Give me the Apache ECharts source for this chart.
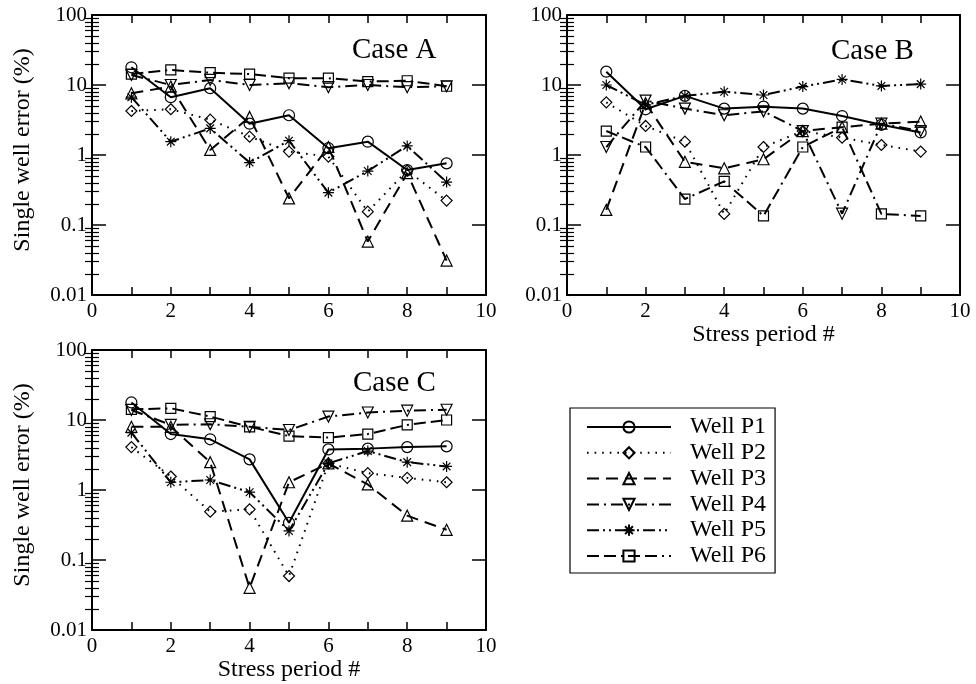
<!DOCTYPE html>
<html>
<head>
<meta charset="utf-8">
<script src="https://cdn.jsdelivr.net/npm/echarts@6/dist/echarts.min.js"></script>
<style>
html,body{margin:0;padding:0;background:#fff;}
#chart{width:976px;height:684px;}
</style>
</head>
<body>
<div id="chart"></div>
<script>
// ---- data ----
const periods = [1, 2, 3, 4, 5, 6, 7, 8, 9];
const wellNames = ['Well P1', 'Well P2', 'Well P3', 'Well P4', 'Well P5', 'Well P6'];
const caseNames = ['Case A', 'Case B', 'Case C'];
const xTickValues = [0, 2, 4, 6, 8, 10];
const yTickLabels = ['0.01', '0.1', '1', '10', '100'];

// Case A
const a_p1 = [17.9, 6.7, 9.0, 2.8, 3.7, 1.25, 1.55, 0.61, 0.76];
const a_p2 = [4.25, 4.5, 3.2, 1.83, 1.12, 0.95, 0.155, 0.6, 0.223];
const a_p3 = [7.6, 9.5, 1.18, 3.5, 0.24, 1.3, 0.058, 0.55, 0.031];
const a_p4 = [13.9, 10.0, 11.8, 10.0, 10.6, 9.3, 10.0, 9.3, 9.6];
const a_p5 = [6.7, 1.55, 2.4, 0.78, 1.6, 0.29, 0.59, 1.35, 0.41];
const a_p6 = [14.3, 16.4, 15.0, 14.3, 12.5, 12.5, 11.2, 11.5, 9.6];
// Case B
const b_p1 = [15.5, 4.5, 7.0, 4.6, 4.9, 4.6, 3.6, 2.7, 2.1];
const b_p2 = [5.65, 2.6, 1.55, 0.144, 1.3, 2.2, 1.77, 1.39, 1.12];
const b_p3 = [0.164, 5.5, 0.8, 0.645, 0.87, 2.2, 2.5, 2.8, 3.0];
const b_p4 = [1.3, 6.0, 4.6, 3.7, 4.2, 2.2, 0.145, 2.8, 2.2];
const b_p5 = [10.0, 5.2, 7.0, 8.0, 7.2, 9.5, 12.0, 9.7, 10.3];
const b_p6 = [2.2, 1.3, 0.235, 0.42, 0.135, 1.3, 2.5, 0.144, 0.135];
// Case C
const c_p1 = [17.8, 6.3, 5.3, 2.74, 0.34, 3.8, 3.9, 4.1, 4.2];
const c_p2 = [4.1, 1.56, 0.49, 0.53, 0.059, 2.4, 1.74, 1.49, 1.29];
const c_p3 = [8.0, 8.0, 2.5, 0.040, 1.29, 2.4, 1.2, 0.43, 0.27];
const c_p4 = [13.9, 8.5, 8.7, 8.0, 7.2, 11.2, 12.8, 13.6, 14.0];
const c_p5 = [6.6, 1.29, 1.39, 0.93, 0.26, 2.4, 3.6, 2.5, 2.17];
const c_p6 = [14.2, 14.7, 11.2, 8.0, 5.9, 5.6, 6.3, 8.5, 10.0];

const caseData = [
  [a_p1, a_p2, a_p3, a_p4, a_p5, a_p6],
  [b_p1, b_p2, b_p3, b_p4, b_p5, b_p6],
  [c_p1, c_p2, c_p3, c_p4, c_p5, c_p6]
];

// ---- styles ----
const FONT = '"Liberation Serif", "DejaVu Serif", serif';
const starPath = 'path://M0,-10L0,10M-10,0L10,0M-7,-7L7,7M-7,7L7,-7';
const wellStyles = [
  { symbol: 'circle', size: 11, rotate: 0, dash: 'solid' },
  { symbol: 'diamond', size: 11, rotate: 0, dash: [1.6, 6] },
  { symbol: 'triangle', size: 11, rotate: 0, dash: [12, 7] },
  { symbol: 'triangle', size: 11, rotate: 180, dash: [12, 5, 2, 5] },
  { symbol: starPath, size: 11, rotate: 0, dash: [12, 4, 2, 4, 2, 4] },
  { symbol: 'rect', size: 10, rotate: 0, dash: [12, 5, 12, 5, 2, 5] }
];

const grids = [
  { left: 92, top: 15, width: 394, height: 280 },
  { left: 567, top: 15, width: 393, height: 280 },
  { left: 92, top: 350, width: 394, height: 280 }
];
const titlePos = [
  { left: 352, top: 36 },
  { left: 831, top: 37 },
  { left: 353, top: 369 }
];
const showYName = [true, false, true];
const showXName = [false, true, true];

const minorVals = [];
[-2, -1, 0, 1].forEach(function (d) {
  for (let k = 2; k <= 9; k++) minorVals.push(Number((k * Math.pow(10, d)).toPrecision(3)));
});

const xAxes = [], yAxes = [], series = [], titles = [];
grids.forEach(function (g, gi) {
  xAxes.push({
    gridIndex: gi, type: 'value', min: 0, max: 10, interval: 1, position: 'bottom',
    axisLine: { show: true, onZero: false, lineStyle: { color: '#000', width: 2 } },
    axisTick: { show: true, inside: true, length: 8, lineStyle: { color: '#000', width: 1.5 } },
    axisLabel: {
      show: true, margin: 6, color: '#000', fontFamily: FONT, fontSize: 21,
      formatter: function (v) { return xTickValues.indexOf(v) >= 0 ? String(v) : ''; }
    },
    splitLine: { show: false },
    name: showXName[gi] ? 'Stress period #' : '', nameLocation: 'middle', nameGap: 27,
    nameTextStyle: { color: '#000', fontFamily: FONT, fontSize: 24 }
  });
  xAxes.push({
    gridIndex: gi, type: 'value', min: 0, max: 10, interval: 1, position: 'top',
    axisLine: { show: true, onZero: false, lineStyle: { color: '#000', width: 2 } },
    axisTick: { show: true, inside: true, length: 8, lineStyle: { color: '#000', width: 1.5 } },
    axisLabel: { show: false }, splitLine: { show: false }
  });
  const yBase = {
    gridIndex: gi, type: 'log', logBase: 10, min: 0.01, max: 100, splitLine: { show: false }
  };
  yAxes.push(Object.assign({}, yBase, {
    position: 'left',
    axisLine: { show: true, onZero: false, lineStyle: { color: '#000', width: 2 } },
    axisTick: { show: true, inside: true, length: 14, lineStyle: { color: '#000', width: 1.5 } },
    axisLabel: {
      show: true, margin: 5, color: '#000', fontFamily: FONT, fontSize: 21,
      formatter: function (v) {
        const i = Math.round(Math.log10(v)) + 2;
        return yTickLabels[i] !== undefined ? yTickLabels[i] : '';
      }
    },
    name: showYName[gi] ? 'Single well error (%)' : '', nameLocation: 'middle', nameGap: 57,
    nameTextStyle: { color: '#000', fontFamily: FONT, fontSize: 24, padding: [0, 0, 0, 10] }
  }));
  yAxes.push(Object.assign({}, yBase, {
    position: 'left',
    axisLine: { show: false },
    axisTick: { show: true, inside: true, length: 7, customValues: minorVals, lineStyle: { color: '#000', width: 1.2 } },
    axisLabel: { show: false }
  }));
  yAxes.push(Object.assign({}, yBase, {
    position: 'right',
    axisLine: { show: true, onZero: false, lineStyle: { color: '#000', width: 2 } },
    axisTick: { show: true, inside: true, length: 14, lineStyle: { color: '#000', width: 1.5 } },
    axisLabel: { show: false }
  }));
  yAxes.push(Object.assign({}, yBase, {
    position: 'right',
    axisLine: { show: false },
    axisTick: { show: true, inside: true, length: 7, customValues: minorVals, lineStyle: { color: '#000', width: 1.2 } },
    axisLabel: { show: false }
  }));
  titles.push({
    text: caseNames[gi], left: titlePos[gi].left, top: titlePos[gi].top, padding: 0,
    textStyle: { color: '#000', fontFamily: FONT, fontSize: 29, fontWeight: 'normal' }
  });
  caseData[gi].forEach(function (vals, wi) {
    const st = wellStyles[wi];
    series.push({
      name: wellNames[wi], type: 'line', xAxisIndex: gi * 2, yAxisIndex: gi * 4,
      data: periods.map(function (p, i) { return [p, vals[i]]; }),
      symbol: st.symbol, symbolSize: st.size, symbolRotate: st.rotate, showAllSymbol: true,
      lineStyle: { color: '#000', width: 2, type: st.dash },
      itemStyle: { color: 'transparent', borderColor: '#000', borderWidth: 1.2 },
      emphasis: { disabled: true }, animation: false, z: 2 + wi
    });
  });
});

const chart = echarts.init(document.getElementById('chart'), null, { renderer: 'canvas' });
chart.setOption({
  backgroundColor: '#fff',
  animation: false,
  title: titles,
  grid: grids,
  xAxis: xAxes,
  yAxis: yAxes,
  legend: {
    data: wellNames, orient: 'vertical', left: 570, top: 408,
    itemWidth: 84, itemHeight: 14, itemGap: 1.8,
    padding: [7, 9, 5, 16],
    borderColor: '#000', borderWidth: 1.2, backgroundColor: '#fff',
    textStyle: { color: '#000', fontFamily: FONT, fontSize: 24, lineHeight: 22, padding: [0, 0, 0, 14] },
    selectedMode: false
  },
  series: series
});
</script>
</body>
</html>
